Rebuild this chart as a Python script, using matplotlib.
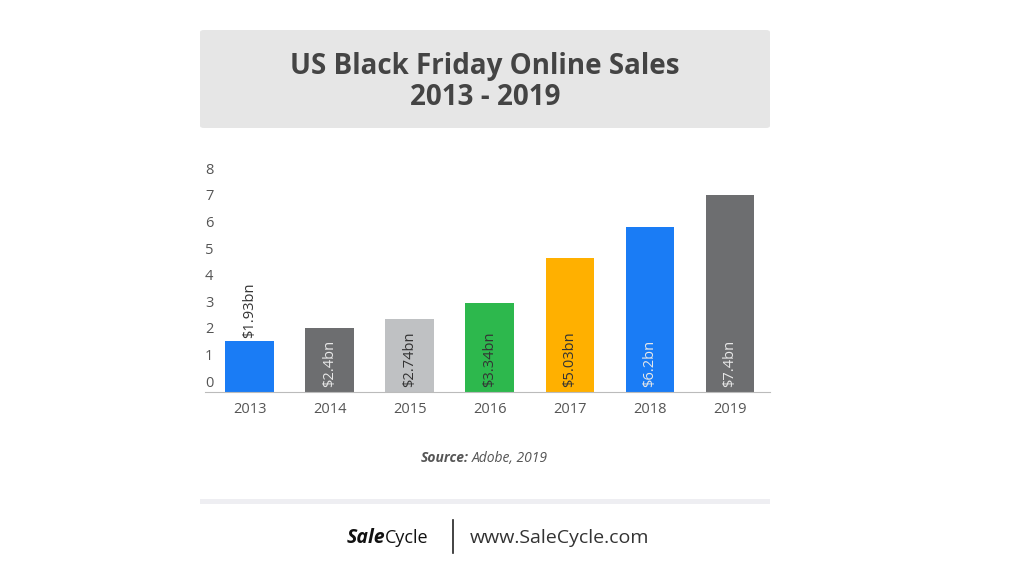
import matplotlib.pyplot as plt
from matplotlib.patches import FancyBboxPatch, Rectangle

years = ["2013", "2014", "2015", "2016", "2017", "2018", "2019"]
sales = [1.93, 2.4, 2.74, 3.34, 5.03, 6.2, 7.4]
labels = ["$1.93bn", "$2.4bn", "$2.74bn", "$3.34bn", "$5.03bn", "$6.2bn", "$7.4bn"]
colors = ["#1a7cf5", "#6d6e70", "#bfc1c3", "#2db84d", "#ffb000", "#1a7cf5", "#6d6e70"]
label_colors = ["#333333", "#e8e8e8", "#333333", "#333333", "#333333", "#e8e8e8", "#e8e8e8"]
yticks = [0, 1, 2, 3, 4, 5, 6, 7, 8]

plt.rcParams['font.family'] = ['Open Sans', 'DejaVu Sans']
W, H = 1020, 575
fig = plt.figure(figsize=(W / 100, H / 100), dpi=100)

# title box
fig.patches.append(FancyBboxPatch((200 / W, 1 - 128 / H), 570 / W, 98 / H,
                                  boxstyle="round,pad=0,rounding_size=0.004",
                                  transform=fig.transFigure, facecolor="#e6e6e6",
                                  edgecolor="none"))
fig.text(485 / W, 1 - 82 / H, "US Black Friday Online Sales\n2013 - 2019", ha="center",
         va="center", fontsize=20, fontweight="bold", color="#444444", linespacing=1.05)

ax = fig.add_axes([205 / W, 1 - 392 / H, 565 / W, 221 / H])
x = range(len(years))
ax.bar(x, sales, width=0.61, color=colors)
ax.set_xlim(-0.56, 6.5)
ax.set_ylim(0, 8.3)
ax.set_yticks([])
ax.set_xticks(list(x))
ax.set_xticklabels(years)
ax.tick_params(length=0, labelsize=10.5, colors="#555555", pad=7)
# y labels sit a little above their gridline in the original
for v in yticks:
    ax.text(-0.56, v + 0.33, str(v), ha="left", va="center", fontsize=10.5,
            color="#555555", transform=ax.transData)
for s in ["top", "right", "left"]:
    ax.spines[s].set_visible(False)
ax.spines["bottom"].set_color("#bbbbbb")

for i, v in enumerate(sales):
    if i == 0:
        ax.text(i, v + 0.1, labels[i], rotation=90, ha="center", va="bottom",
                fontsize=10.5, color=label_colors[i])
    else:
        ax.text(i, 0.2, labels[i], rotation=90, ha="center", va="bottom",
                fontsize=10.5, color=label_colors[i])

fig.text(469 / W, 1 - 458 / H, "Source:", ha="right", va="center", fontsize=10,
         color="#555555", style="italic", fontweight="bold")
fig.text(472 / W, 1 - 458 / H, "Adobe, 2019", ha="left", va="center", fontsize=10,
         color="#555555", style="italic")

fig.patches.append(Rectangle((200 / W, 1 - 504 / H), 570 / W, 5 / H,
                             transform=fig.transFigure, facecolor="#eeeef2", edgecolor="none"))
fig.text(385 / W, 1 - 538 / H, "Sale", ha="right", va="center", fontsize=14,
         fontweight="bold", style="italic", color="#111111")
fig.text(385 / W, 1 - 538 / H, "Cycle", ha="left", va="center", fontsize=13, color="#111111")
fig.lines.append(plt.Line2D([453 / W, 453 / W], [1 - 520 / H, 1 - 553 / H],
                            transform=fig.transFigure, color="#222222", lw=1.2))
fig.text(470 / W, 1 - 538 / H, "www.SaleCycle.com", ha="left", va="center",
         fontsize=14, color="#333333")

fig.savefig("out.png", dpi=100, facecolor="white")
